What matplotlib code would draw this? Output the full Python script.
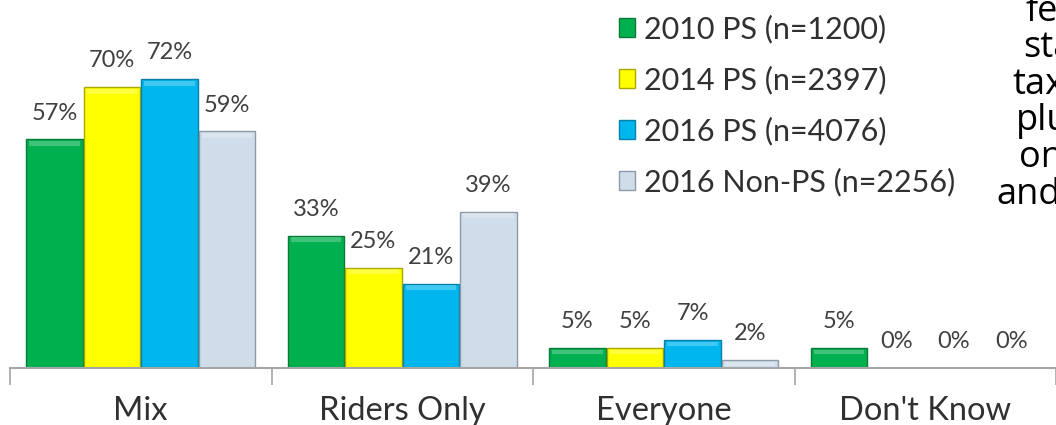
import matplotlib
matplotlib.use("Agg")
import matplotlib.pyplot as plt
import numpy as np

categories = ["Mix", "Riders Only", "Everyone", "Don't Know"]
series_names = ["2010 PS (n=1200)", "2014 PS (n=2397)", "2016 PS (n=4076)", "2016 Non-PS (n=2256)"]
ps2010 = [57, 33, 5, 5]
ps2014 = [70, 25, 5, 0]
ps2016 = [72, 21, 7, 0]
nonps2016 = [59, 39, 2, 0]
side_text = ["fe", "sta", "tax", "plu", "on", "and"]

colors = ["#00B04F", "#FFFF00", "#00B6EE", "#CFDDEA"]
edges = ["#0A7A3A", "#A8A800", "#0A7FA8", "#8E9AA6"]

plt.rcParams['font.family'] = ['Lato', 'DejaVu Sans']

fig = plt.figure(figsize=(10.56, 4.25), dpi=100)
ax = fig.add_axes([10/1056, 57/425, 1 - 10/1056, 368/425])

x = np.arange(len(categories))
w = 0.216
step = 0.22
all_series = [ps2010, ps2014, ps2016, nonps2016]
for i, vals in enumerate(all_series):
    pos = x + (i - 1.5) * step
    ax.bar(pos, vals, width=w, color=colors[i], edgecolor=edges[i],
           linewidth=1.0, label=series_names[i], zorder=2)
    # subtle top highlight to mimic bevel
    ax.bar(pos, [min(v, 1.2) if v > 0 else 0 for v in vals], width=w * 0.9,
           bottom=[max(v - 1.6, 0) for v in vals], color="white", alpha=0.25,
           linewidth=0, zorder=3)
    for p, v in zip(pos, vals):
        ax.annotate(f"{v}%", (p, v), xytext=(0, 19), textcoords="offset points",
                    ha="center", va="center", fontsize=17, color="#404040")

ax.set_xlim(-0.5, (1056 - 10) / 262.7 - 0.5)
ax.set_ylim(0, 368 / 4.01)
for s in ["top", "right", "left"]:
    ax.spines[s].set_visible(False)
ax.spines["bottom"].set_color("#A6A6A6")
ax.spines["bottom"].set_linewidth(1.5)
ax.set_yticks([])
ax.set_xticks(np.arange(-0.5, 4.0, 1.0), minor=False)
ax.set_xticklabels([])
ax.tick_params(axis="x", length=12, width=1.2, color="#A6A6A6", direction="out")
ax.set_xticks(x, minor=True)
ax.set_xticklabels(categories, minor=True, fontsize=23.5, color="#303030")
ax.tick_params(axis="x", which="minor", length=0, pad=20)

leg = ax.legend(loc="upper left", bbox_to_anchor=(581/1046, 1.035), frameon=False,
                handlelength=0.55, handleheight=0.55, handletextpad=0.3,
                labelspacing=0.73, labelcolor="#303030",
                prop={"size": 22})

ys = [12, 48, 85, 121, 158, 195]
xs = [1026, 1023, 1012, 1016, 1019, 996]
for t, xx, yy in zip(side_text, xs, ys):
    fig.text(xx / 1056, 1 - yy / 425, t, ha="left", va="center", fontsize=26,
             color="black", family=["Open Sans", "DejaVu Sans"])

fig.savefig("out.png", dpi=100)
